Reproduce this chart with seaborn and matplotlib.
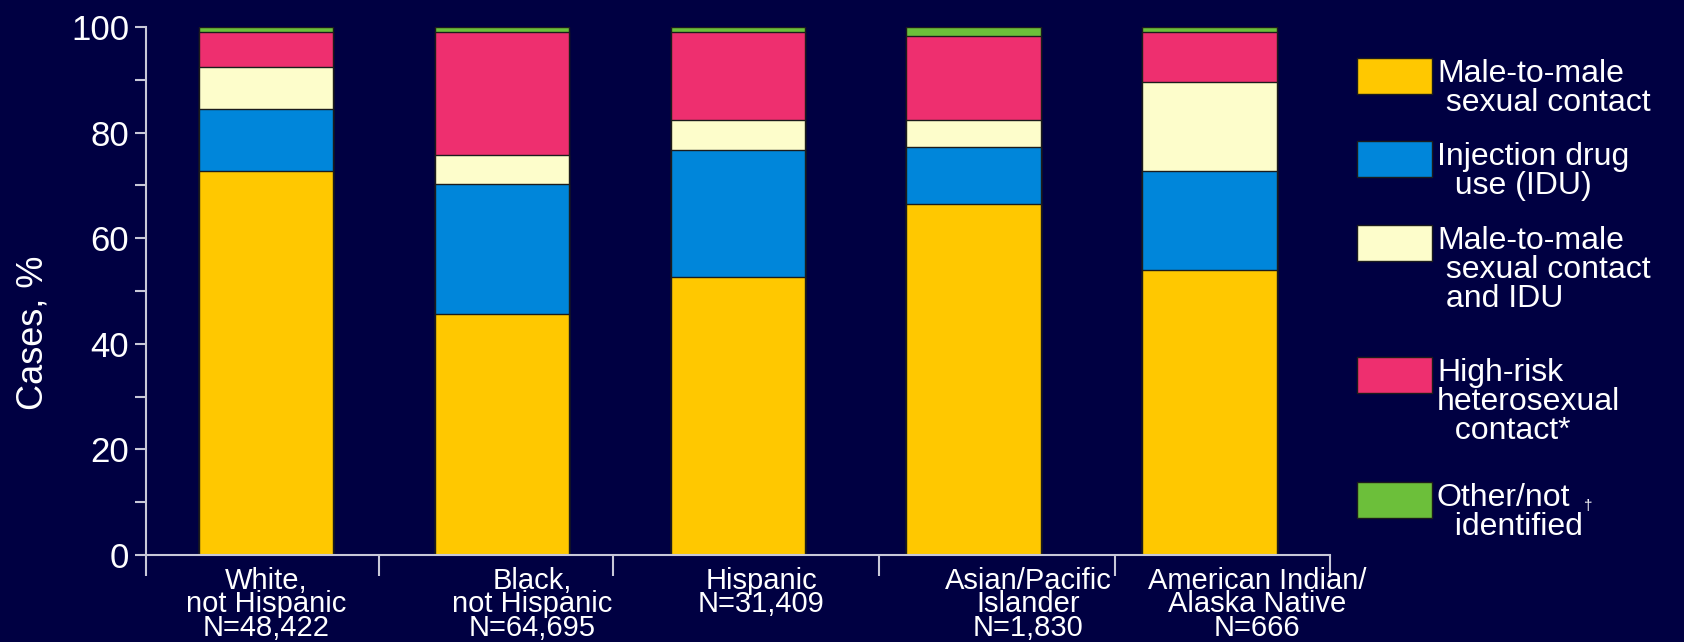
import pandas as pd
import matplotlib
matplotlib.use('Agg')
import matplotlib.pyplot as plt
from matplotlib.patches import Rectangle
import seaborn as sns

# data (percent of cases)
groups = ['White', 'Black', 'Hispanic', 'Asian/PI', 'AI/AN']
group_labels = ['White,\nnot Hispanic\nN=48,422',
                'Black,\nnot Hispanic\nN=64,695',
                'Hispanic\nN=31,409',
                'Asian/Pacific\nIslander\nN=1,830',
                'American Indian/\nAlaska Native\nN=666']
msm = [72.7, 45.7, 52.6, 66.5, 54.0]
idu = [11.7, 24.5, 24.1, 10.8, 18.8]
msm_idu = [8.0, 5.6, 5.6, 5.0, 16.8]
hetero = [6.7, 23.3, 16.8, 16.0, 9.5]
other = [0.9, 0.9, 0.9, 1.7, 0.9]

legend_labels = ['Male-to-male\n sexual contact',
                 'Injection drug\n  use (IDU)',
                 'Male-to-male\n sexual contact\n and IDU',
                 'High-risk\nheterosexual\n  contact*',
                 'Other/not\n  identified']
colors = ['#FFC800', '#0086DA', '#FDFDCB', '#EE2F6F', '#6CBF3A']

bg = '#000042'
axc = '#C8C8D8'

sns.set_theme(style='ticks')
plt.rcParams['font.family'] = ['Liberation Sans', 'DejaVu Sans']

df = pd.DataFrame({'group': groups, 'msm': msm, 'idu': idu,
                   'msm_idu': msm_idu, 'hetero': hetero, 'other': other})
layers = ['msm', 'idu', 'msm_idu', 'hetero', 'other']
cum = df[layers].cumsum(axis=1)
cum['group'] = df['group']

W, H = 1684, 642
fig = plt.figure(figsize=(W / 100, H / 100), dpi=100)
fig.patch.set_facecolor(bg)
fig.subplots_adjust(left=146 / W, right=1330 / W, bottom=1 - 555 / H, top=1 - 27 / H)
ax = fig.add_subplot(111)
ax.set_facecolor(bg)

# stacked bars: draw the cumulative totals from the top layer down
for col, c in reversed(list(zip(layers, colors))):
    sns.barplot(data=cum, x='group', y=col, order=groups, color=c, width=0.57,
                saturation=1, errorbar=None, edgecolor='#1c1c1c', linewidth=1, ax=ax)

ax.set_xlim(-0.508, 4.51)
ax.set_ylim(0, 100)
ax.set_ylabel('Cases, %', fontsize=26, color='white')
ax.yaxis.set_label_coords(-0.081, 0.42)
ax.set_xlabel('')

ax.set_yticks(range(0, 101, 20))
ax.set_yticks(range(10, 100, 20), minor=True)
ax.tick_params(axis='y', which='both', direction='out', length=8, width=1.5,
               color=axc, labelsize=25, labelcolor='white', pad=4)

sep = [-0.506, 0.48, 1.47, 2.6, 3.6, 4.508]
ax.set_xticks(sep)
ax.set_xticklabels([''] * len(sep))
ax.tick_params(axis='x', direction='out', length=15, width=1.5, color=axc)

for s in ['top', 'right']:
    ax.spines[s].set_visible(False)
for s in ['left', 'bottom']:
    ax.spines[s].set_color(axc)
    ax.spines[s].set_linewidth(1.5)

label_x = [0.0, 1.13, 2.1, 3.23, 4.2]
for x, lab in zip(label_x, group_labels):
    ax.text(x, -0.022, lab, transform=ax.get_xaxis_transform(), ha='center',
            va='top', fontsize=21, color='white', linespacing=0.8,
            multialignment='center')

# legend boxes on the right
def fx(px):
    return px / W


def fy(py):
    return 1 - py / H


box_tops = [58, 141, 225, 357, 482]
for top, c, lab in zip(box_tops, colors, legend_labels):
    fig.patches.append(Rectangle((fx(1357), fy(top + 36)), 75 / W, 36 / H,
                                 transform=fig.transFigure, facecolor=c,
                                 edgecolor='#1c1c1c', linewidth=1))
    fig.text(fx(1437), fy(top + 1), lab, ha='left', va='top', fontsize=23,
             color='white', linespacing=0.95)
fig.text(fx(1584), fy(506), '\u2020', ha='left', va='center', fontsize=11,
         color='white')

fig.savefig('out.png', dpi=100, facecolor=bg)
